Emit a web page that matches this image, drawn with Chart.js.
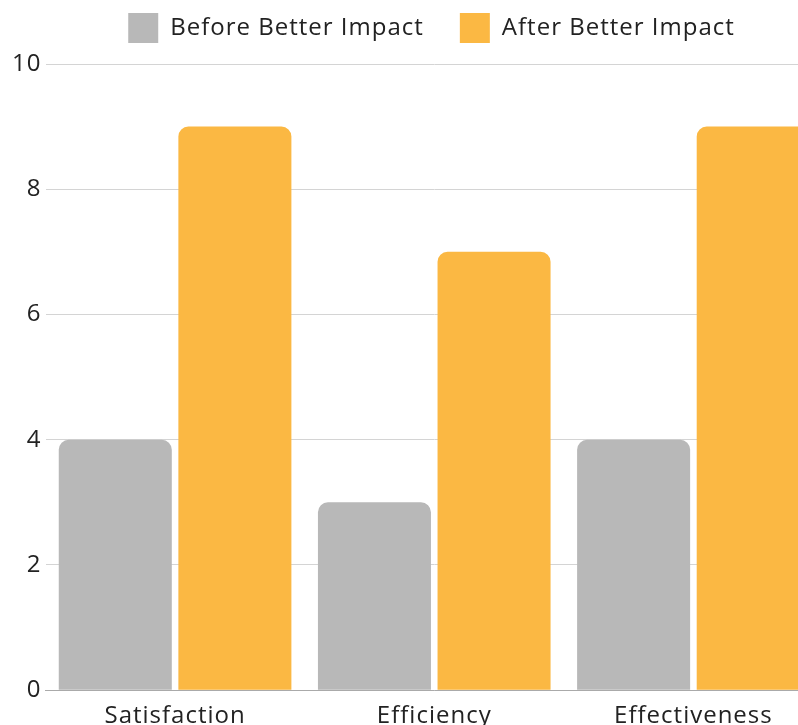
<!DOCTYPE html>
<html>
<head>
<meta charset="utf-8">
<script src="https://cdn.jsdelivr.net/npm/chart.js@4"></script>
<style>
    html, body { margin: 0; padding: 0; background: #fff; overflow: hidden; }
    #wrap { position: relative; width: 823px; height: 735px; }
</style>
</head>
<body>
<div id="wrap"><canvas id="impactChart"></canvas></div>
<script>
// ================================================================
// DATA
// ================================================================
const categories  = ['Satisfaction', 'Efficiency', 'Effectiveness'];
const beforeVals  = [4, 3, 4];
const afterVals   = [9, 7, 9];
const seriesNames = ['Before Better Impact', 'After Better Impact'];

// ================================================================
// DIAGRAM
// ================================================================
const FONT = "'Open Sans', sans-serif";
Chart.defaults.font.family = FONT;
Chart.defaults.color = '#222';

// small layout tweaks: wider letter spacing, extra gap under legend, legend nudged right
const tweak = {
    id: 'tweak',
    beforeUpdate(chart) { chart.ctx.letterSpacing = '1px'; },
    beforeDraw(chart)   { chart.ctx.letterSpacing = '1px'; },
    beforeLayout(chart) {
        const lg = chart.legend;
        if (lg && !lg._patched) {
            const fit = lg.fit;
            lg.fit = function () { fit.call(this); this.height += 11; };
            lg._patched = true;
        }
    },
    afterLayout(chart) { chart.legend.left += 20; chart.legend.right += 20; }
};

const ctx = document.getElementById('impactChart').getContext('2d');
new Chart(ctx, {
    type: 'bar',
    data: {
        labels: categories,
        datasets: [
            { label: seriesNames[0], data: beforeVals, backgroundColor: '#b8b8b8', borderRadius: 10 },
            { label: seriesNames[1], data: afterVals,  backgroundColor: '#fbb843', borderRadius: 10 }
        ]
    },
    options: {
        responsive: true,
        maintainAspectRatio: false,
        animation: false,
        categoryPercentage: 0.923,
        barPercentage: 0.945,
        layout: { padding: { top: -23, left: 0, right: 0, bottom: 0 } },
        scales: {
            x: {
                grid: { display: false },
                border: { display: true, color: '#aaa', width: 1 },
                ticks: { font: { size: 24 }, padding: 4, color: '#222' }
            },
            y: {
                min: 0, max: 10,
                ticks: { stepSize: 2, font: { size: 24 }, padding: 4, color: '#222' },
                grid: { color: '#d4d4d4', drawTicks: false },
                border: { display: false },
                afterFit: s => { s.width = 45.5; }
            }
        },
        plugins: {
            legend: {
                position: 'top',
                labels: { boxWidth: 30, boxHeight: 30, padding: 36, font: { size: 24 }, color: '#222' }
            },
            tooltip: { enabled: false }
        }
    },
    plugins: [tweak]
});
</script>
</body>
</html>
